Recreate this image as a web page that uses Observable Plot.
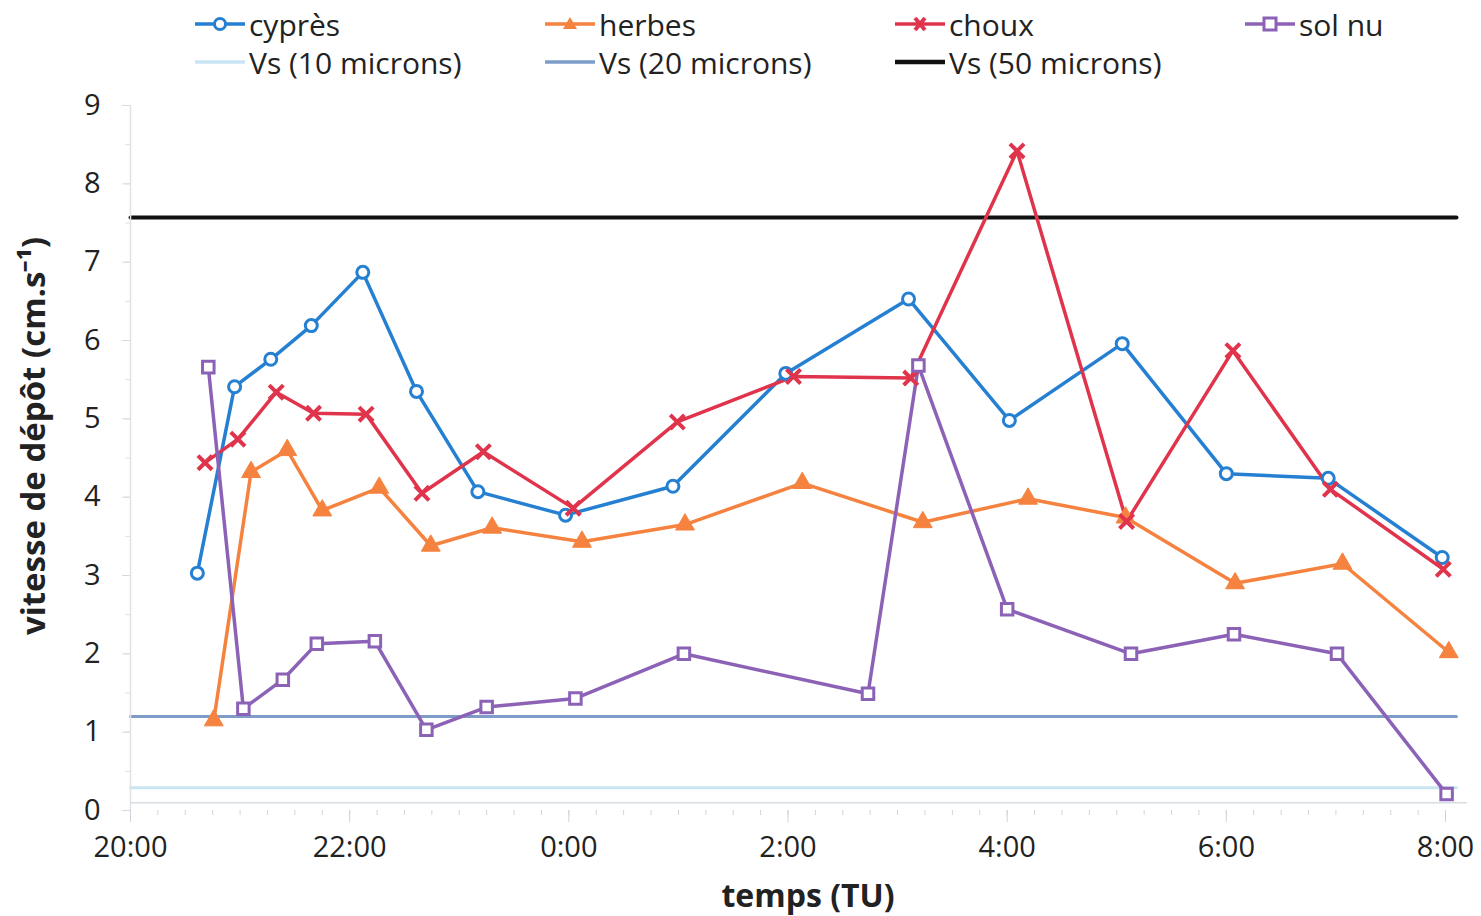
<!DOCTYPE html>
<html>
<head>
<meta charset="utf-8">
<script src="https://cdn.jsdelivr.net/npm/d3@7"></script>
<script src="https://cdn.jsdelivr.net/npm/@observablehq/plot@0.6"></script>
<style>
  html, body { margin: 0; padding: 0; background: #fff; }
  #wrap { position: relative; width: 1481px; height: 916px; font-family: "Open Sans", sans-serif; }
  #legend { position: absolute; left: 0; top: 0; width: 1481px; height: 95px; }
  .li { position: absolute; display: flex; align-items: center; font-size: 30px; color: #222; white-space: nowrap; }
  .li svg { margin-right: 4px; }
  #chart { position: absolute; left: 0; top: 0; }
</style>
</head>
<body>
<div id="wrap">
  <div id="chart"></div>
  <div id="legend"></div>
</div>
<script>
// hours since 20:00
const xTickValues = [0, 2, 4, 6, 8, 10, 12];
const xTickLabels = ["20:00", "22:00", "0:00", "2:00", "4:00", "6:00", "8:00"];
const yTickValues = [0, 1, 2, 3, 4, 5, 6, 7, 8, 9];

const cypresT = [0.61, 0.95, 1.28, 1.65, 2.12, 2.61, 3.17, 3.97, 4.95, 5.98, 7.10, 8.02, 9.05, 10.0, 10.93, 11.97];
const cypresV = [3.03, 5.41, 5.76, 6.19, 6.87, 5.35, 4.07, 3.77, 4.14, 5.58, 6.53, 4.98, 5.96, 4.30, 4.24, 3.23];

const herbesT = [0.76, 1.10, 1.43, 1.75, 2.27, 2.74, 3.30, 4.12, 5.06, 6.13, 7.23, 8.19, 9.08, 10.08, 11.06, 12.03];
const herbesV = [1.15, 4.32, 4.60, 3.83, 4.12, 3.38, 3.61, 3.43, 3.65, 4.18, 3.68, 3.98, 3.74, 2.90, 3.15, 2.02];

const chouxT = [0.68, 0.98, 1.33, 1.67, 2.15, 2.66, 3.22, 4.04, 4.99, 6.05, 7.12, 8.09, 9.09, 10.06, 10.95, 11.98];
const chouxV = [4.44, 4.74, 5.34, 5.07, 5.06, 4.05, 4.58, 3.86, 4.96, 5.54, 5.52, 8.42, 3.69, 5.87, 4.10, 3.08];

const solnuT = [0.71, 1.03, 1.39, 1.70, 2.23, 2.70, 3.25, 4.06, 5.05, 6.73, 7.19, 8.00, 9.13, 10.07, 11.01, 12.01];
const solnuV = [5.66, 1.30, 1.67, 2.13, 2.16, 1.03, 1.32, 1.43, 2.00, 1.49, 5.68, 2.57, 2.00, 2.25, 2.00, 0.21];

const vsNames = ["Vs (10 microns)", "Vs (20 microns)", "Vs (50 microns)"];
const vsValues = [0.29, 1.20, 7.57];
const vsSpan = [0, 12.1];

const seriesNames = ["cyprès", "herbes", "choux", "sol nu"];
const seriesColors = ["#2580d2", "#f5823f", "#e0344c", "#8c62b7"];
const vsColors = ["#c9e4f3", "#7d9dc8", "#111111"];

const series = [
  {name: seriesNames[0], t: cypresT, v: cypresV, color: seriesColors[0], symbol: "circle"},
  {name: seriesNames[1], t: herbesT, v: herbesV, color: seriesColors[1], symbol: "triangle"},
  {name: seriesNames[2], t: chouxT, v: chouxV, color: seriesColors[2], symbol: "times"},
  {name: seriesNames[3], t: solnuT, v: solnuV, color: seriesColors[3], symbol: "square"}
];
const rows = s => s.t.map((t, i) => ({t, v: s.v[i]}));

const minorX = d3.range(0, 12.01, 0.25);
const minorY = d3.range(0, 9.01, 0.5);

const marks = [];
// reference lines Vs
vsValues.forEach((v, i) => {
  marks.push(Plot.line(vsSpan.map(t => ({t, v})), {x: "t", y: "v", stroke: vsColors[i], strokeWidth: i === 2 ? 4 : 3}));
});
// axis lines
marks.push(Plot.ruleY([0.1], {x1: 0, x2: 12.2, stroke: "#d8dde3", strokeWidth: 1.5}));
marks.push(Plot.ruleX([0], {y1: 0, y2: 9, stroke: "#dfe3e8", strokeWidth: 1.5}));
// axes
marks.push(Plot.axisX({ticks: minorX, tickSize: 5, tickFormat: () => "", stroke: "#cfd4da", label: null}));
marks.push(Plot.axisX({ticks: xTickValues, tickSize: 12, tickPadding: 14, tickFormat: d => xTickLabels[xTickValues.indexOf(d)], stroke: "#cfd4da", fill: "#222", label: null}));
marks.push(Plot.axisY({ticks: minorY, tickSize: 5, tickFormat: () => "", stroke: "#dde1e6", label: null}));
marks.push(Plot.axisY({ticks: yTickValues, tickSize: 8, tickPadding: 22, stroke: "#d5dae0", fill: "#222", label: null}));
// series
series.forEach(s => {
  marks.push(Plot.line(rows(s), {x: "t", y: "v", stroke: s.color, strokeWidth: 3.5}));
});
series.forEach(s => {
  const opts = {x: "t", y: "v", symbol: s.symbol};
  if (s.symbol === "circle") Object.assign(opts, {r: 6, fill: "white", stroke: s.color, strokeWidth: 3});
  else if (s.symbol === "square") Object.assign(opts, {r: 6.5, fill: "white", stroke: s.color, strokeWidth: 3});
  else if (s.symbol === "triangle") Object.assign(opts, {r: 7, fill: s.color, stroke: s.color, strokeWidth: 1});
  else Object.assign(opts, {r: 6.5, stroke: s.color, strokeWidth: 4});
  marks.push(Plot.dot(rows(s), opts));
});
// axis titles
marks.push(Plot.text(["vitesse de dépôt (cm.s⁻¹)"], {frameAnchor: "left", textAnchor: "middle", dx: -96, dy: -22, rotate: -90, fontSize: 33, fontWeight: "bold", fill: "#222", text: d => d}));
marks.push(Plot.text(["temps (TU)"], {frameAnchor: "bottom", textAnchor: "middle", dy: 96, dx: 20, fontSize: 32, fontWeight: "bold", fill: "#222", text: d => d}));

const chart = Plot.plot({
  width: 1481,
  height: 916,
  marginTop: 105,
  marginBottom: 106,
  marginLeft: 130,
  marginRight: 36,
  x: {domain: [0, 12]},
  y: {domain: [0, 9]},
  style: {fontFamily: "Open Sans, sans-serif", fontSize: "29px", background: "white", overflow: "visible"},
  marks
});
document.getElementById("chart").appendChild(chart);

// legend
const legend = document.getElementById("legend");
function swatch(color, symbol, thick) {
  const w = 50, h = 24, cx = 25, cy = 12;
  let m = "";
  if (symbol === "circle") m = `<circle cx="${cx}" cy="${cy}" r="5.5" fill="white" stroke="${color}" stroke-width="3"/>`;
  else if (symbol === "square") m = `<rect x="${cx-6}" y="${cy-6}" width="12" height="12" fill="white" stroke="${color}" stroke-width="3"/>`;
  else if (symbol === "triangle") m = `<path d="M${cx},${cy-7}L${cx+7},${cy+5}L${cx-7},${cy+5}Z" fill="${color}"/>`;
  else if (symbol === "times") m = `<path d="M${cx-5},${cy-6}L${cx+5},${cy+6}M${cx+5},${cy-6}L${cx-5},${cy+6}" stroke="${color}" stroke-width="4"/>`;
  return `<svg width="${w}" height="${h}"><line x1="0" x2="${w}" y1="${cy}" y2="${cy}" stroke="${color}" stroke-width="${thick}"/>${m}</svg>`;
}
const legendItems = [
  {label: seriesNames[0], color: seriesColors[0], symbol: "circle", thick: 3.5, left: 195, top: 24},
  {label: seriesNames[1], color: seriesColors[1], symbol: "triangle", thick: 3.5, left: 545, top: 24},
  {label: seriesNames[2], color: seriesColors[2], symbol: "times", thick: 3.5, left: 895, top: 24},
  {label: seriesNames[3], color: seriesColors[3], symbol: "square", thick: 3.5, left: 1245, top: 24},
  {label: vsNames[0], color: vsColors[0], symbol: null, thick: 3.5, left: 195, top: 62},
  {label: vsNames[1], color: vsColors[1], symbol: null, thick: 3.5, left: 545, top: 62},
  {label: vsNames[2], color: vsColors[2], symbol: null, thick: 4.5, left: 895, top: 62}
];
legendItems.forEach(it => {
  const d = document.createElement("div");
  d.className = "li";
  d.style.left = it.left + "px";
  d.style.top = (it.top - 20) + "px";
  d.style.height = "40px";
  d.innerHTML = swatch(it.color, it.symbol, it.thick) + `<span>${it.label}</span>`;
  legend.appendChild(d);
});
</script>
</body>
</html>
